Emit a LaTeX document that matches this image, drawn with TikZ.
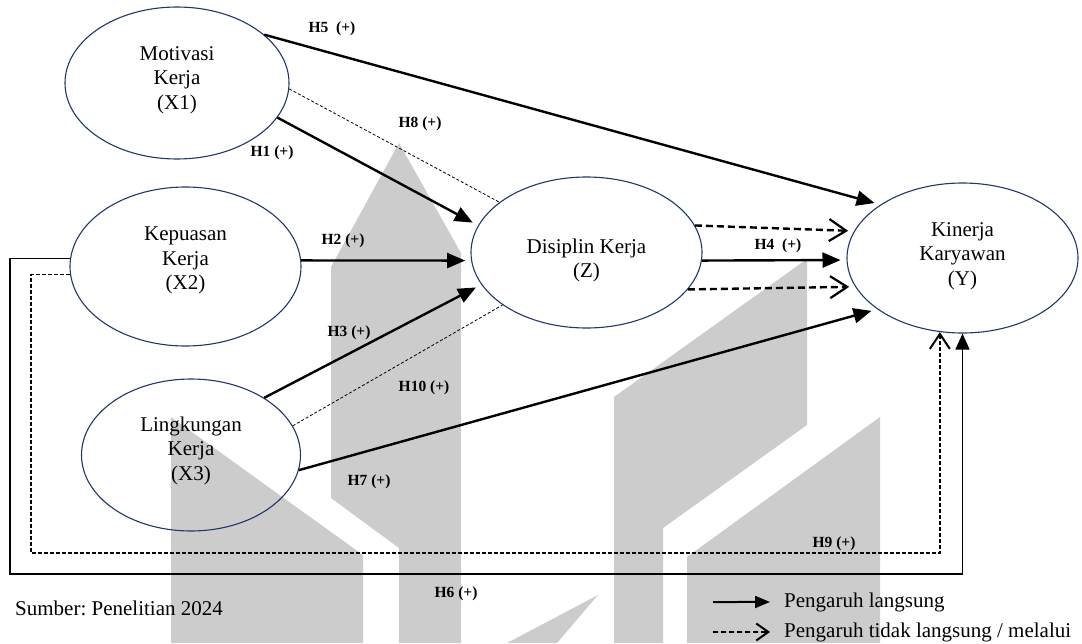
\documentclass[tikz,border=0pt]{standalone}
\usepackage{fontspec}
\setmainfont{Liberation Serif}
\frenchspacing
\usepackage{tikz}
\usetikzlibrary{arrows.meta,positioning,shapes.geometric}
\definecolor{navyline}{RGB}{31,56,100}
\definecolor{wmgrey}{RGB}{204,204,204}

\begin{document}
\begin{tikzpicture}[x=1pt,y=-1pt,
var/.style={ellipse,draw=navyline,line width=1.1pt,inner sep=0pt,align=center,
  minimum width=231pt,minimum height=152pt,font=\fontsize{21}{24.5}\selectfont},
hyp/.style={font=\fontsize{15.5}{18}\selectfont\bfseries,inner sep=1pt},
dir/.style={line width=2.4pt,-{Triangle[length=18pt,width=15pt]},shorten >=6pt},
ind/.style={line width=2.4pt,dash pattern=on 7pt off 4pt,
  -{Straight Barb[length=17pt,width=22pt,line width=2.2pt]},shorten >=6pt},
via/.style={line width=0.8pt,dash pattern=on 3pt off 2pt},
txt/.style={font=\fontsize{21}{24.5}\selectfont,anchor=base west}]
\useasboundingbox (0,0) rectangle (1082,643);

\fill[wmgrey] (399,143) -- (461,253) -- (461,643) -- (399,643) -- (399,548) -- (331,498) -- (331,267) -- cycle;
\fill[wmgrey] (171,417) -- (363,555) -- (363,643) -- (171,643) -- cycle;
\fill[wmgrey] (614,397) -- (807,259) -- (807,425) -- (663,528) -- (663,643) -- (614,643) -- cycle;
\fill[wmgrey] (687,557) -- (880,417) -- (880,643) -- (687,643) -- cycle;
\fill[wmgrey] (598,595) -- (557,643) -- (507,643) -- cycle;

\node[var,minimum width=224pt] (x1) at (177,83) {Motivasi\\Kerja\\(X1)\rule[-10.6pt]{0pt}{1pt}};
\node[var,minimum height=159pt] (x2) at (185.5,266.5) {Kepuasan\\Kerja\\(X2)\rule[-16.6pt]{0pt}{1pt}};
\node[var,minimum width=219pt] (x3) at (191,455) {Lingkungan\\Kerja\\(X3)\rule[-12.6pt]{0pt}{1pt}};
\node[var,minimum height=151pt] (z) at (586.5,252.5) {\rule{0pt}{30pt}Disiplin Kerja\\(Z)};
\node[var,minimum height=150pt] (y) at (962.5,258) {Kinerja\\Karyawan\\(Y)\rule[-8.6pt]{0pt}{1pt}};

\path[dir] (x1.29) edge (y.147);
\path[via] (x1.-3) edge (z.150);
\path[dir] (x1.-19) edge (z.166);
\path[dir] (x2.3) edge (z.184);
\path[dir] (x3.38) edge (z.197);
\path[via] (x3.16) edge (z.212);
\path[dir] (x3.-8.5) edge (y.211);
\path[ind] (z.14) edge (y.166);
\path[dir] (z.-4.5) edge (y.181.5);
\path[ind] (z.-20.5) edge (y.195);

\coordinate (c6) at (10,574);
\coordinate (c9) at (31,553);
\draw[line width=1.4pt,-{Triangle[length=16pt,width=14pt]}] (x2.176) -| (c6) -| (y.south);
\draw[line width=1.4pt,dash pattern=on 4pt off 2pt,
  -{Straight Barb[length=15pt,width=20pt,line width=2pt]}] (x2.184) -| (c9) -| (y.253);

\node[hyp] (h1) at (272,153) {H1 (+)};
\node[hyp] (h2) at (343,241) {H2 (+)};
\node[hyp] (h3) at (349,333) {H3 (+)};
\node[hyp] (h4) at (778,246) {H4~ (+)};
\node[hyp] (h5) at (332,29) {H5~ (+)};
\node[hyp] (h6) at (456,594) {H6 (+)};
\node[hyp] (h7) at (369,482) {H7 (+)};
\node[hyp] (h8) at (420,124) {H8 (+)};
\node[hyp] (h9) at (834,544) {H9 (+)};
\node[hyp] (h10) at (424,388) {H10 (+)};

\node[txt,inner sep=0pt] (src) at (15,615) {Sumber: Penelitian 2024};
\coordinate (l1) at (713,602);
\coordinate (l2) at (713,632);
\node[txt,inner xsep=14pt] (leg1) at (770,607) {Pengaruh langsung};
\node[txt,inner xsep=14pt] (leg2) at (770,637) {Pengaruh tidak langsung / melalui};
\draw[line width=2pt,-{Triangle[length=15pt,width=12pt]}] (l1) -- (leg1.west);
\draw[line width=1.8pt,dash pattern=on 5pt off 3pt,
  -{Straight Barb[length=12pt,width=17pt,line width=2pt]}] (l2) -- (leg2.west);
\end{tikzpicture}
\end{document}
